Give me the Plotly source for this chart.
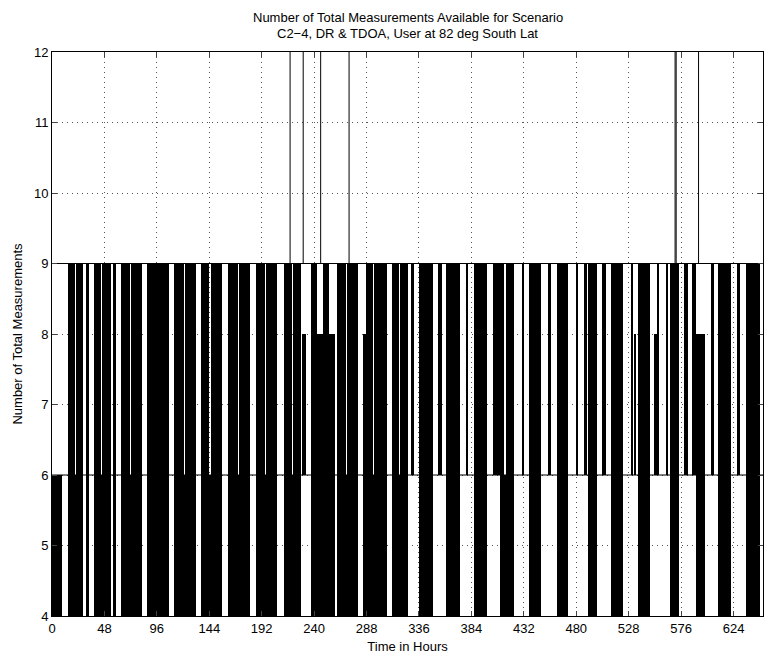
import plotly.graph_objects as go

# ---- data (hours) ----
# black bands where the count flickers rapidly between 6 and 9 (upper band)
upper_start = [14.4, 21.6, 31, 38.8, 46, 55.5, 63, 72, 87, 112, 121.5, 136.4, 145.2, 161.5, 171.1,
               186.5, 196.2, 212, 220.5, 237, 248, 261, 270.5, 287.5, 294.5, 311, 319, 329, 336,
               353, 361, 379, 386.5, 403.5, 410, 415.3, 430, 437, 454.5, 462.7, 480, 487, 491,
               504, 511.6, 530, 537, 554, 562, 566, 579, 586, 603, 610, 627.6, 635]
upper_end = [20.6, 28.7, 34, 45, 54, 58.6, 71, 82, 107, 120.5, 131.6, 144.2, 156, 170.1, 181,
             195.2, 205.7, 219.5, 228, 243, 254, 269.5, 280.5, 293.5, 306.5, 318, 326, 331, 349,
             357, 374, 381, 398.6, 410, 414.3, 423, 432, 448, 456.6, 472.8, 482, 489.6, 499,
             507, 523, 532.3, 547.6, 556, 564, 574, 582, 589.5, 606, 622, 629.5, 648]
# bands flickering between 6 and 8
mid_start = [229, 243, 254, 284.5, 532.8, 551, 590]
mid_end = [233, 248, 259, 287.5, 535, 554, 598]
# bands flickering between 4 and 6 (lower band)
lower_start = [0, 14.4, 31, 38.8, 55.5, 63, 87, 112, 136.4, 161.5, 186.5, 212, 237, 261, 284.5,
               311, 336, 361, 386.5, 410, 437, 462.7, 491, 511.6, 537, 566, 590, 610, 635]
lower_end = [9, 28.7, 34, 54, 58.6, 82, 107, 131.6, 156, 181, 205.7, 228, 259, 280.5, 306.5,
             326, 349, 374, 398.6, 423, 448, 472.8, 499, 523, 547.6, 574, 598, 622, 648]
# short excursions up to 12 measurements
spike_times = [218, 230, 246, 272, 570.5, 571.5, 592]
base_levels = [9, 6]
upper_lo, upper_hi = 6, 9
mid_lo, mid_hi = 6, 8
lower_lo, lower_hi = 4, 6
spike_lo, spike_hi = 9, 12
t_end = 651
x_ticks = list(range(0, 625, 48))
y_ticks = list(range(4, 13))
title_lines = ["Number of Total Measurements Available for Scenario",
               "C2\u22124, DR & TDOA, User at 82 deg South Lat"]

fig = go.Figure()


def add_band(starts, ends, lo, hi):
    fig.add_trace(go.Bar(
        x=[(s + e) / 2 for s, e in zip(starts, ends)],
        width=[e - s for s, e in zip(starts, ends)],
        y=[hi - lo] * len(starts),
        base=[lo] * len(starts),
        marker=dict(color="black", line=dict(width=0)),
        showlegend=False, hoverinfo="skip"))


add_band(upper_start, upper_end, upper_lo, upper_hi)
add_band(mid_start, mid_end, mid_lo, mid_hi)
add_band(lower_start, lower_end, lower_lo, lower_hi)

for lvl in base_levels:
    fig.add_trace(go.Scatter(x=[0, t_end], y=[lvl, lvl], mode="lines",
                             line=dict(color="black", width=1), showlegend=False))

sx, sy = [], []
for t in spike_times:
    sx += [t, t, None]
    sy += [spike_lo, spike_hi, None]
fig.add_trace(go.Scatter(x=sx, y=sy, mode="lines", line=dict(color="black", width=1),
                         showlegend=False))

FAM = "Liberation Sans, Arial, sans-serif"
font = dict(family=FAM, size=13, color="black")
H_PLOT = 660 - 52 - 44
for i, txt in enumerate(title_lines):
    fig.add_annotation(text=txt, xref="paper", yref="paper", x=0.5,
                       y=1 + (35 - 16 * i) / H_PLOT, xanchor="center", yanchor="middle",
                       showarrow=False, font=dict(family=FAM, size=13, color="black"))

grid = dict(showgrid=True, gridcolor="#555", griddash="1px,4px", gridwidth=1, zeroline=False)
fig.update_layout(
    width=767, height=660,
    margin=dict(l=52, r=4, t=52, b=44),
    paper_bgcolor="white", plot_bgcolor="white",
    barmode="overlay", bargap=0,
    font=font,
    xaxis=dict(range=[0, t_end], tickvals=x_ticks, ticks="inside", ticklen=5,
               showline=True, mirror="ticks", linecolor="black", linewidth=1,
               title=dict(text="Time in Hours", standoff=7, font=dict(family=FAM, size=13)),
               **grid),
    yaxis=dict(range=[4, 12], tickvals=y_ticks, ticks="inside", ticklen=5,
               showline=True, mirror="ticks", linecolor="black", linewidth=1,
               title=dict(text="Number of Total Measurements", standoff=8,
                          font=dict(family=FAM, size=13)),
               **grid),
)
fig.write_html("out.html")
